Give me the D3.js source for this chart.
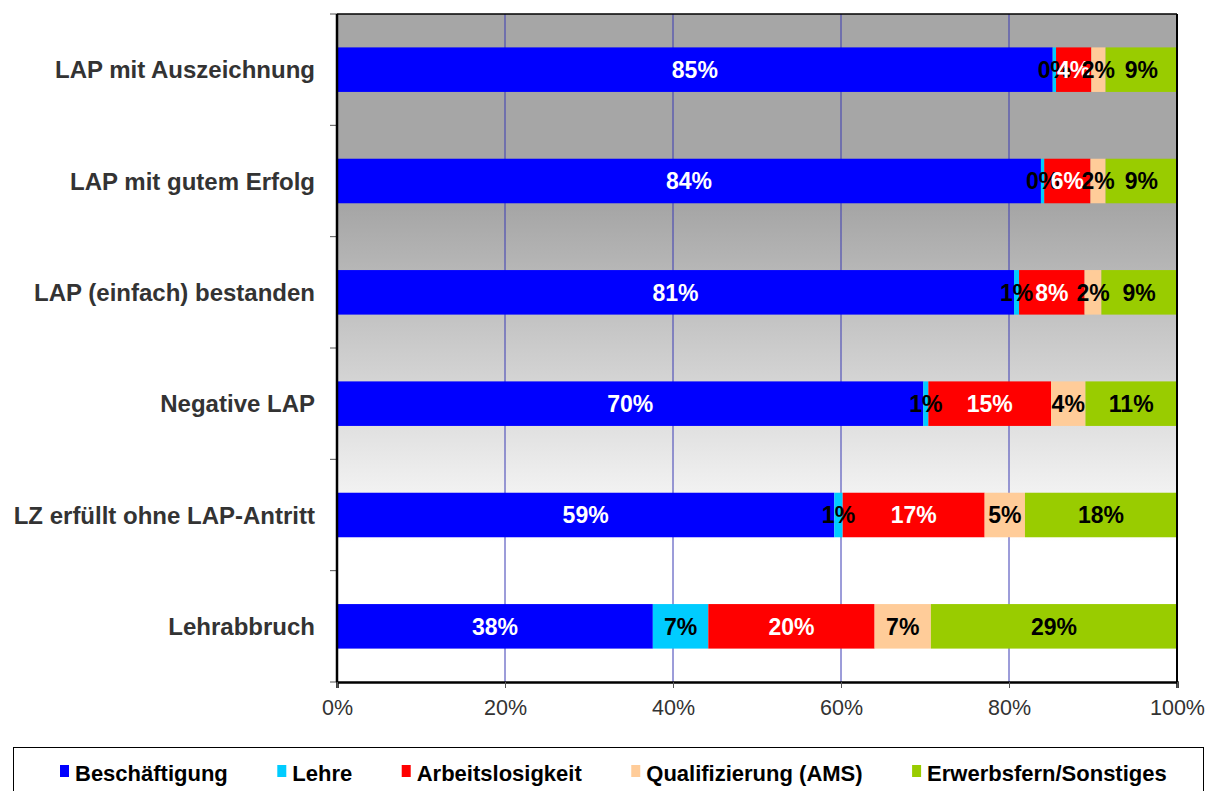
<!DOCTYPE html>
<html>
<head>
<meta charset="utf-8">
<script src="https://cdn.jsdelivr.net/npm/d3@7"></script>
<style>
  body { margin: 0; background: #fff; }
  text { font-family: Arial, "Liberation Sans", sans-serif; }
</style>
</head>
<body>
<div id="viz"></div>
<script>
const categories = ['LAP mit Auszeichnung', 'LAP mit gutem Erfolg', 'LAP (einfach) bestanden',
                    'Negative LAP', 'LZ erfüllt ohne LAP-Antritt', 'Lehrabbruch'];
const seriesNames = ['Beschäftigung', 'Lehre', 'Arbeitslosigkeit', 'Qualifizierung (AMS)', 'Erwerbsfern/Sonstiges'];
const beschaeftigung   = [85.2, 83.8, 80.6, 69.8, 59.2, 37.6];
const lehre            = [0.4, 0.4, 0.6, 0.6, 1.0, 6.6];
const arbeitslosigkeit = [4.2, 5.5, 7.8, 14.6, 16.9, 19.8];
const qualifizierung   = [1.7, 1.8, 2.0, 4.1, 4.8, 6.7];
const erwerbsfern      = [8.5, 8.5, 9.0, 10.9, 18.1, 29.3];
const xTicks = [0, 20, 40, 60, 80, 100];

const colors = ['#0000ff', '#00ccff', '#ff0000', '#ffcc99', '#99cc00'];
const labelColors = ['#fff', '#000', '#fff', '#000', '#000'];

const width = 1209, height = 791;
const margin = {top: 14, right: 32, bottom: 109, left: 337};

const rows = categories.map((c, i) => {
    const r = {cat: c};
    [beschaeftigung, lehre, arbeitslosigkeit, qualifizierung, erwerbsfern]
        .forEach((arr, k) => r[seriesNames[k]] = arr[i]);
    return r;
});
const stacked = d3.stack().keys(seriesNames)(rows);

const svg = d3.select('#viz').append('svg')
    .attr('width', width)
    .attr('height', height);

const x = d3.scaleLinear().domain([0, 100]).range([margin.left, width - margin.right]);
const y = d3.scaleBand().domain(categories).range([margin.top, height - margin.bottom]).paddingInner(0.6).paddingOuter(0.3);
const yEdges = d3.scaleLinear().domain([0, categories.length]).range([margin.top, height - margin.bottom]);

// background gradient
const grad = svg.append('defs').append('linearGradient')
    .attr('id', 'bg').attr('x1', 0).attr('x2', 0).attr('y1', 0).attr('y2', 1);
grad.append('stop').attr('offset', '0%').attr('stop-color', '#a6a6a6');
grad.append('stop').attr('offset', '29%').attr('stop-color', '#a6a6a6');
grad.append('stop').attr('offset', '79%').attr('stop-color', '#ffffff');
grad.append('stop').attr('offset', '100%').attr('stop-color', '#ffffff');

svg.append('rect')
    .attr('x', x(0)).attr('y', margin.top)
    .attr('width', x(100) - x(0)).attr('height', height - margin.bottom - margin.top)
    .attr('fill', 'url(#bg)');

// gridlines
svg.append('g').selectAll('line')
    .data(xTicks.filter(t => t > 0 && t < 100))
    .join('line')
        .attr('x1', d => x(d)).attr('x2', d => x(d))
        .attr('y1', margin.top).attr('y2', height - margin.bottom)
        .attr('stroke', '#3a3ab4').attr('stroke-width', 1);

// bars
const groups = svg.append('g').selectAll('g')
    .data(stacked)
    .join('g')
        .attr('fill', (d, i) => colors[i]);

groups.selectAll('rect')
    .data(d => d)
    .join('rect')
        .attr('x', d => x(d[0]))
        .attr('y', d => y(d.data.cat))
        .attr('width', d => x(d[1]) - x(d[0]))
        .attr('height', y.bandwidth());

// value labels
const labels = svg.append('g');
stacked.forEach((s, k) => {
    labels.selectAll('text.s' + k)
        .data(s)
        .join('text')
            .attr('class', 's' + k)
            .attr('x', d => x((d[0] + d[1]) / 2))
            .attr('y', d => y(d.data.cat) + y.bandwidth() / 2)
            .attr('dy', '0.36em')
            .attr('text-anchor', 'middle')
            .attr('font-size', 23)
            .attr('font-weight', 'bold')
            .attr('fill', labelColors[k])
            .text(d => Math.round(d[1] - d[0]) + '%');
});

// frame
svg.append('line')
    .attr('x1', x(0)).attr('x2', x(100)).attr('y1', margin.top).attr('y2', margin.top)
    .attr('stroke', '#000').attr('stroke-width', 1.5);
svg.append('line')
    .attr('x1', x(100)).attr('x2', x(100)).attr('y1', margin.top).attr('y2', height - margin.bottom)
    .attr('stroke', '#000').attr('stroke-width', 2);

// y axis ticks (between categories)
svg.append('g').selectAll('line')
    .data(d3.range(categories.length + 1))
    .join('line')
        .attr('x1', x(0) - 7).attr('x2', x(0))
        .attr('y1', d => yEdges(d)).attr('y2', d => yEdges(d))
        .attr('stroke', '#555').attr('stroke-width', 1);

svg.append('g').selectAll('text')
    .data(categories)
    .join('text')
        .attr('x', x(0) - 22)
        .attr('y', d => y(d) + y.bandwidth() / 2)
        .attr('dy', '0.36em')
        .attr('text-anchor', 'end')
        .attr('font-size', 24)
        .attr('font-weight', 'bold')
        .attr('fill', '#333')
        .text(d => d);

svg.append('line')
    .attr('x1', x(0)).attr('x2', x(0)).attr('y1', margin.top).attr('y2', height - margin.bottom)
    .attr('stroke', '#000').attr('stroke-width', 2.5);

// x axis
const xAxis = svg.append('g')
    .attr('transform', `translate(0, ${height - margin.bottom})`)
    .call(d3.axisBottom(x).tickValues(xTicks).tickFormat(d => d + '%').tickSize(6).tickPadding(12));
xAxis.select('.domain').attr('stroke', '#000').attr('stroke-width', 2.5);
xAxis.selectAll('.tick line').attr('stroke', '#555');
xAxis.selectAll('.tick text')
    .attr('font-size', 21.5)
    .attr('font-family', 'Arial, "Liberation Sans", sans-serif')
    .attr('fill', '#333');

// legend
const legend = svg.append('g');
legend.append('rect')
    .attr('x', 13.5).attr('y', 747.5)
    .attr('width', 1190).attr('height', 60)
    .attr('fill', '#fff').attr('stroke', '#000').attr('stroke-width', 1);

let lx = 60;
seriesNames.forEach((name, k) => {
    legend.append('rect')
        .attr('x', lx).attr('y', 765)
        .attr('width', 9).attr('height', 12)
        .attr('fill', colors[k]);
    const t = legend.append('text')
        .attr('x', lx + 15).attr('y', 781)
        .attr('font-size', 22)
        .attr('font-weight', 'bold')
        .attr('fill', '#000')
        .text(name);
    lx += 15 + t.node().getComputedTextLength() + 49.5;
});
</script>
</body>
</html>
